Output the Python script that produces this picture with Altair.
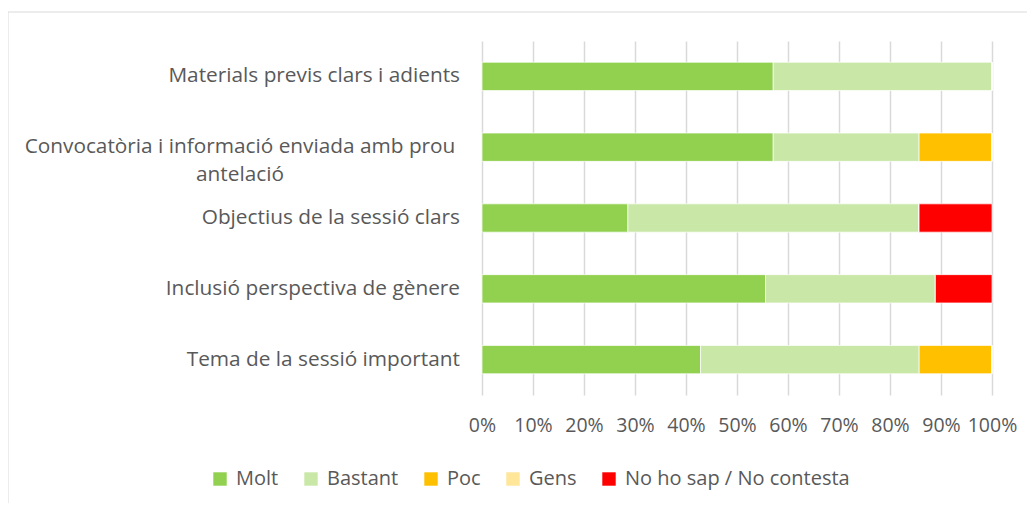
import altair as alt
import pandas as pd

categories = [
    "Materials previs clars i adients",
    "Convocatòria i informació enviada amb prou antelació",
    "Objectius de la sessió clars",
    "Inclusió perspectiva de gènere",
    "Tema de la sessió important",
]
label_lines = [
    "Materials previs clars i adients",
    "Convocatòria i informació enviada amb prou\nantelació",
    "Objectius de la sessió clars",
    "Inclusió perspectiva de gènere",
    "Tema de la sessió important",
]
series = ["Molt", "Bastant", "Poc", "Gens", "No ho sap / No contesta"]
colors = ["#92D050", "#C9E7A7", "#FFC000", "#FFE699", "#FF0000"]

molt = [57.1, 57.1, 28.6, 55.6, 42.9]
bastant = [42.9, 28.6, 57.1, 33.3, 42.9]
poc = [0.0, 14.3, 0.0, 0.0, 14.3]
gens = [0.0, 0.0, 0.0, 0.0, 0.0]
nsnc = [0.0, 0.0, 14.3, 11.1, 0.0]

values = [molt, bastant, poc, gens, nsnc]
rows = []
for si, s in enumerate(series):
    for ci, c in enumerate(categories):
        rows.append({"cat": c, "serie": s, "ord": si, "v": values[si][ci]})
df = pd.DataFrame(rows)

lab = pd.DataFrame({"cat": categories, "txt": label_lines})
lab["multi"] = lab["txt"].str.contains("\n")

FONT = "Open Sans"
TXT = "#595959"

yenc = alt.Y("cat:N", sort=categories, title=None,
             scale=alt.Scale(paddingInner=0.6, paddingOuter=0.3),
             axis=None)

bars = alt.Chart(df).mark_bar(stroke="white", strokeWidth=0.7).encode(
    x=alt.X("v:Q", stack="normalize", title=None,
            scale=alt.Scale(domain=[0, 1], nice=False),
            axis=alt.Axis(format="%", values=[i / 10 for i in range(11)],
                          grid=True, gridColor="#d9d9d9", gridWidth=1.5,
                          domain=False, ticks=False, labelPadding=21,
                          labelOverlap=False, labelFlush=False,
                          labelFont=FONT, labelFontSize=19.5, labelColor=TXT)),
    y=yenc,
    color=alt.Color("serie:N", scale=alt.Scale(domain=series, range=colors),
                    legend=alt.Legend(title=None, orient="none", direction="horizontal",
                                      legendX=-272, legendY=428, columns=5,
                                      symbolType="square", symbolSize=180,
                                      symbolStrokeWidth=0, labelFont=FONT,
                                      labelFontSize=20, labelColor=TXT,
                                      labelLimit=500,
                                      labelOffset=6, columnPadding=22)),
    order=alt.Order("ord:Q"),
)

single = alt.Chart(lab).transform_filter("!datum.multi").mark_text(
    align="right", baseline="middle", font=FONT, fontSize=20.8, color=TXT
).encode(y=yenc, x=alt.value(-22), text="txt:N")

multi = alt.Chart(lab).transform_filter("datum.multi").mark_text(
    align="center", baseline="middle", font=FONT, fontSize=20.8, color=TXT,
    lineBreak="\n", lineHeight=28
).encode(y=yenc, x=alt.value(-242), text="txt:N")

frame = alt.Chart(alt.Data(values=[{"a": 1}])).mark_rect(
    fill=None, stroke="#d9d9d9", strokeWidth=1
).encode(x=alt.value(-474), x2=alt.value(570), y=alt.value(-29), y2=alt.value(490))

chart = alt.layer(frame, bars, single, multi).properties(
    width=510, height=354,
    autosize=alt.AutoSizeParams(type="none"),
    padding={"left": 474, "top": 33, "right": 35, "bottom": 108},
).configure_view(stroke=None)

chart.save("out.html", embed_options={"renderer": "svg", "actions": False})
